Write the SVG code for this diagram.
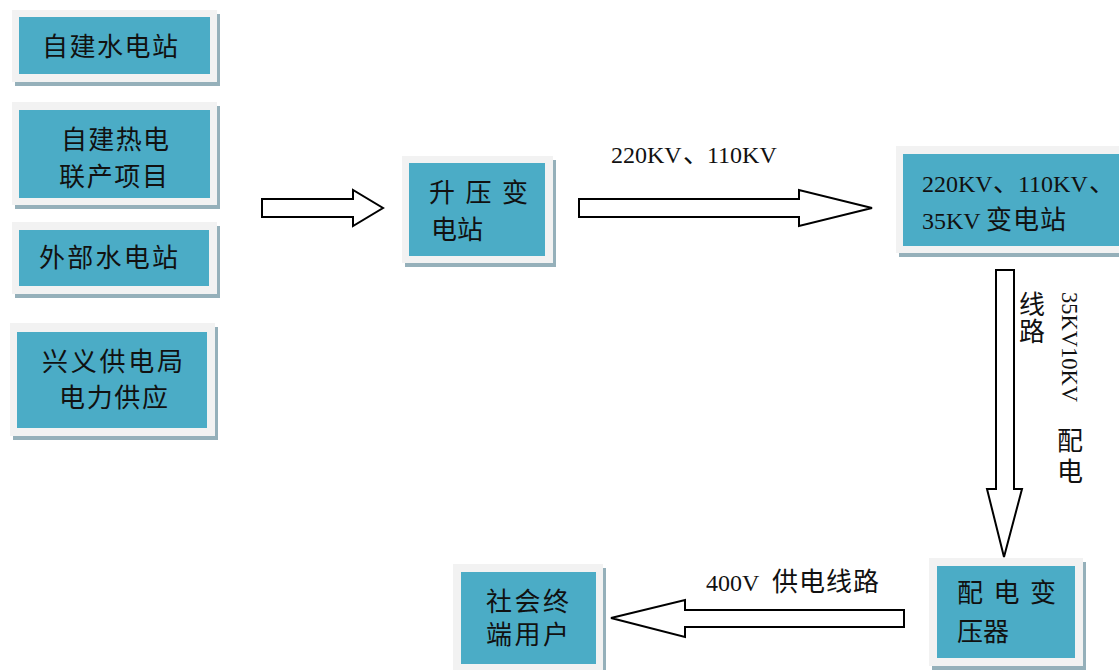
<svg xmlns="http://www.w3.org/2000/svg" width="1119" height="670" viewBox="0 0 1119 670">
<defs>
<style>
.sh{fill:#95b0ba}
.fr{fill:#f2f2f2}
.in{fill:#4bacc6}
.t{font-family:"Liberation Serif","Noto Sans CJK SC",serif;font-size:26px;fill:#111}
.l{font-size:24px}
.c{dominant-baseline:central}
.ar{fill:#fff;stroke:#000;stroke-width:2;stroke-linejoin:miter}
</style>
</defs>
<rect width="1119" height="670" fill="#fff"/>
<g id="n1">
<rect class="sh" x="15" y="14" width="205" height="72"/>
<rect class="fr" x="12" y="10" width="205" height="72"/>
<rect class="in" x="19" y="17" width="191" height="57"/>
<text class="t c" x="42" y="47" textLength="136" lengthAdjust="spacing">自建水电站</text>
</g>
<g id="n2">
<rect class="sh" x="15" y="106" width="205" height="103"/>
<rect class="fr" x="12" y="102" width="205" height="103"/>
<rect class="in" x="19" y="110" width="191" height="88"/>
<text class="t c" x="61" y="140" textLength="108" lengthAdjust="spacing">自建热电</text>
<text class="t c" x="59" y="177" textLength="109" lengthAdjust="spacing">联产项目</text>
</g>
<g id="n3">
<rect class="sh" x="15" y="226" width="205" height="72"/>
<rect class="fr" x="12" y="222" width="205" height="72"/>
<rect class="in" x="19" y="230" width="190" height="56"/>
<text class="t c" x="39" y="258" textLength="139" lengthAdjust="spacing">外部水电站</text>
</g>
<g id="n4">
<rect class="sh" x="13" y="327" width="205" height="113"/>
<rect class="fr" x="10" y="323" width="205" height="113"/>
<rect class="in" x="17" y="332" width="190" height="96"/>
<text class="t c" x="42" y="362" textLength="141" lengthAdjust="spacing">兴义供电局</text>
<text class="t c" x="59" y="398" textLength="109" lengthAdjust="spacing">电力供应</text>
</g>
<g id="n5">
<rect class="sh" x="405" y="160" width="151" height="107"/>
<rect class="fr" x="402" y="156" width="151" height="107"/>
<rect class="in" x="409" y="163" width="136" height="93"/>
<text class="t c" x="429" y="193" textLength="99" lengthAdjust="spacing">升 压 变</text>
<text class="t c" x="431" y="230" textLength="52" lengthAdjust="spacing">电站</text>
</g>
<g id="n6">
<rect class="sh" x="899" y="150" width="230" height="107"/>
<rect class="fr" x="896" y="146" width="230" height="107"/>
<rect class="in" x="903" y="154" width="220" height="92"/>
<text class="t" y="192"><tspan class="l" x="922">220KV</tspan><tspan x="993">、</tspan><tspan class="l" x="1018">110KV</tspan><tspan x="1089">、</tspan></text>
<text class="t" y="229"><tspan class="l" x="922">35KV </tspan><tspan x="986" letter-spacing="1">变电站</tspan></text>
</g>
<g id="n7">
<rect class="sh" x="456" y="568" width="150" height="110"/>
<rect class="fr" x="453" y="564" width="150" height="110"/>
<rect class="in" x="461" y="572" width="135" height="92"/>
<text class="t c" x="486" y="602" textLength="83" lengthAdjust="spacing">社会终</text>
<text class="t c" x="486" y="635" textLength="83" lengthAdjust="spacing">端用户</text>
</g>
<g id="n8">
<rect class="sh" x="932" y="562" width="154" height="108"/>
<rect class="fr" x="929" y="558" width="154" height="108"/>
<rect class="in" x="937" y="566" width="138" height="92"/>
<text class="t c" x="957" y="593" textLength="99" lengthAdjust="spacing">配 电 变</text>
<text class="t c" x="957" y="632" textLength="52" lengthAdjust="spacing">压器</text>
</g>
<g id="connectors">
<polygon class="ar" points="262,199 353,199 353,190 383,208 353,226 353,217 262,217"/>
<polygon class="ar" points="579,199 799,199 799,190 872,208 799,226 799,217 579,217"/>
<polygon class="ar" points="996,270 1014,270 1014,489 1022,489 1004,557 987,489 996,489"/>
<polygon class="ar" points="904,610 685,610 685,600 611,618 685,637 685,627 904,627"/>
<text class="t" y="163"><tspan class="l" x="611">220KV</tspan><tspan x="683">、</tspan><tspan class="l" x="707">110KV</tspan></text>
<text class="t" y="591"><tspan class="l" x="706">400V </tspan><tspan x="772" letter-spacing="1">供电线路</tspan></text>
<text class="t c" x="1019" y="305">线</text>
<text class="t c" x="1019" y="332">路</text>
<text class="t l" transform="translate(1062,292) rotate(90)" x="0" y="0" textLength="110" lengthAdjust="spacingAndGlyphs">35KV10KV</text>
<text class="t c" x="1057" y="441">配</text>
<text class="t c" x="1057" y="472">电</text>
</g>
</svg>
